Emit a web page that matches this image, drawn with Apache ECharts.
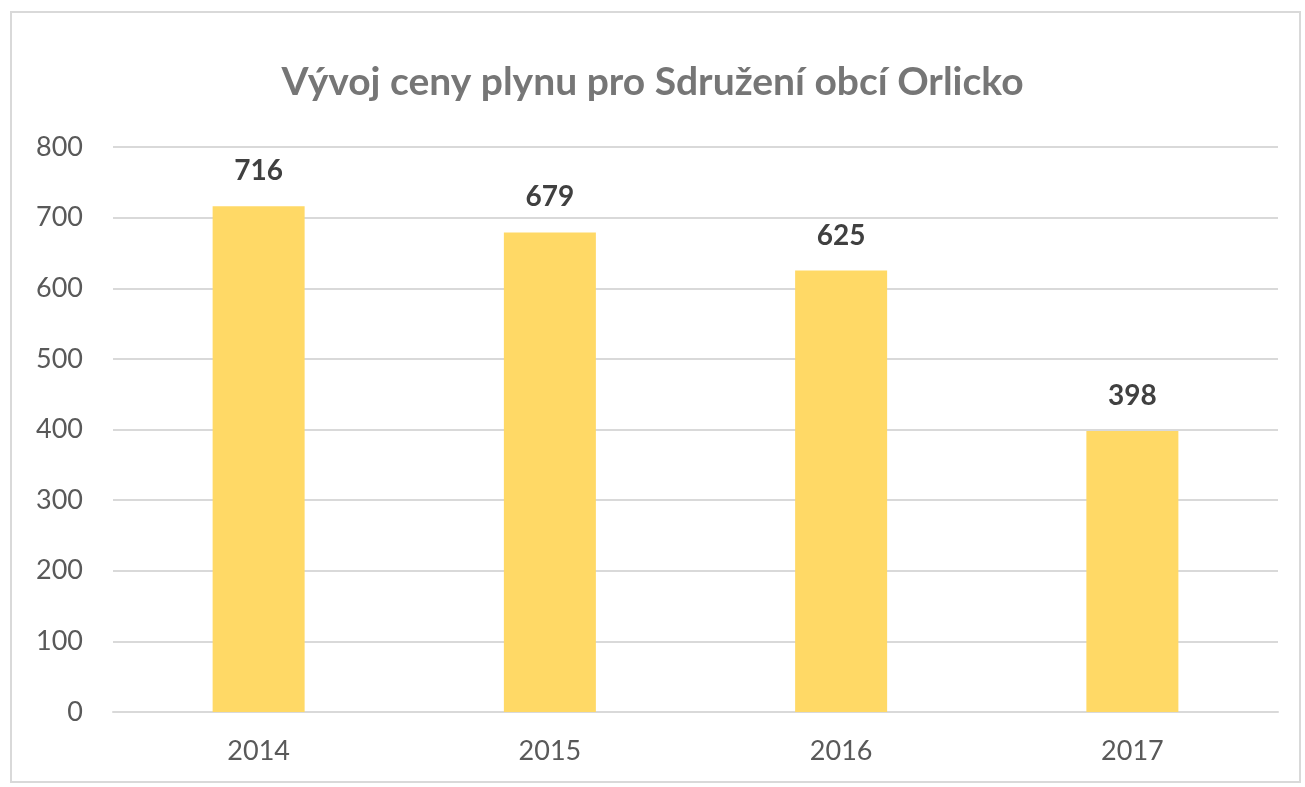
<!DOCTYPE html>
<html>
<head>
<meta charset="utf-8">
<script src="https://cdn.jsdelivr.net/npm/echarts@6/dist/echarts.min.js"></script>
<style>
  html, body { margin: 0; padding: 0; background: #fff; }
  #chart { width: 1305px; height: 787px; }
</style>
</head>
<body>
<div id="chart"></div>
<script>
const years = ['2014', '2015', '2016', '2017'];
const prices = [716, 679, 625, 398];
const yTicks = [0, 100, 200, 300, 400, 500, 600, 700, 800];

const fontName = 'Lato';

const getOption = () => {
  return {
    animation: false,
    title: {
      text: 'Vývoj ceny plynu pro Sdružení obcí Orlicko',
      left: 'center',
      top: 58,
      textStyle: { fontFamily: fontName, fontSize: 39, fontWeight: 'bold', color: '#767676' }
    },
    graphic: [{
      type: 'rect',
      shape: { x: 11, y: 12, width: 1289, height: 770 },
      style: { fill: 'none', stroke: '#d9d9d9', lineWidth: 2 },
      silent: true
    }],
    grid: { left: 113, right: 27, top: 147, bottom: 75 },
    xAxis: {
      type: 'category',
      data: years,
      axisLine: { lineStyle: { color: '#d9d9d9', width: 2 } },
      axisTick: { show: false },
      axisLabel: { fontFamily: fontName, fontSize: 27, color: '#595959', margin: 26 }
    },
    yAxis: {
      type: 'value',
      min: yTicks[0],
      max: yTicks[yTicks.length - 1],
      interval: 100,
      axisLine: { show: false },
      axisTick: { show: false },
      splitLine: { lineStyle: { color: '#d9d9d9', width: 2 } },
      axisLabel: { fontFamily: fontName, fontSize: 27, color: '#595959', margin: 30 }
    },
    series: [{
      type: 'bar',
      data: prices,
      barWidth: 92,
      itemStyle: { color: '#ffd966' },
      label: {
        show: true,
        position: 'top',
        distance: 21,
        fontFamily: fontName,
        fontSize: 28,
        fontWeight: 'bold',
        color: '#404040'
      }
    }]
  };
};

const chart = echarts.init(document.getElementById('chart'));
chart.setOption(getOption());

window.addEventListener('resize', function () {
  chart.resize();
});
</script>
</body>
</html>
